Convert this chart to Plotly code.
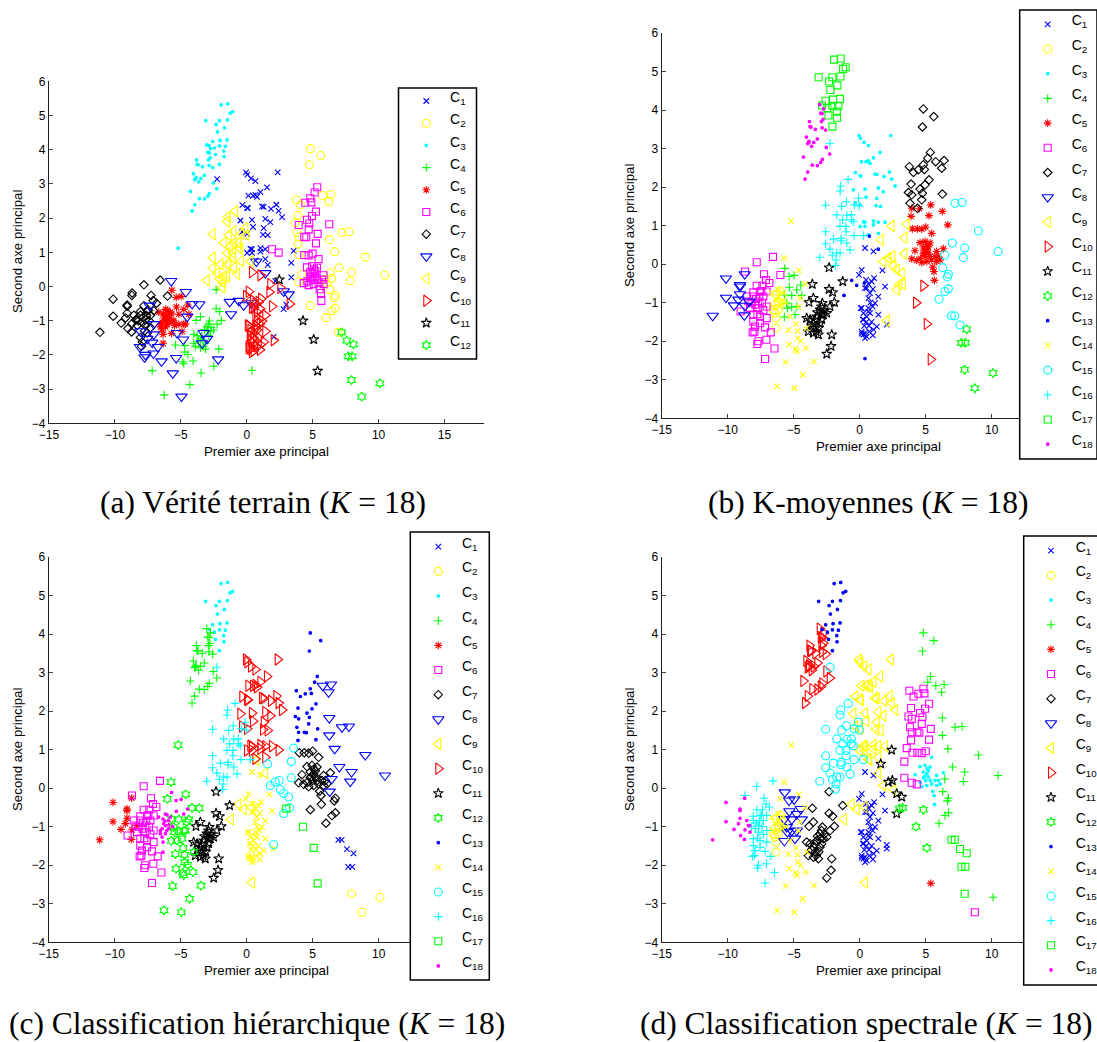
import plotly.graph_objects as go

W, H = 1097, 1042

# ---- point groups: (first axis, second axis) ----
UPPER_DOTS = [(-1.94,5.31),(-1.44,5.34),(-1.26,5.07),(-1.06,5.11),(-3.11,4.85),(-2.32,4.74),(-2.07,4.85),(-1.46,4.87),(-1.69,4.64),(-2.22,4.52),(-2.58,4.24),(-2.02,4.27),(-1.49,4.29),(-2.85,4.12),(-2.45,4.05),(-2.07,4.11),(-1.62,4.10),(-1.74,3.96),(-2.37,3.86),(-1.72,3.80),(-2.07,3.57)]
LOWER_DOTS = [(-3.03,4.14),(-2.75,4.03),(-2.85,3.91),(-2.95,3.92),(-2.78,3.76),(-2.90,3.70),(-3.81,3.70),(-3.76,3.57),(-3.69,3.56),(-3.36,3.50),(-2.85,3.54),(-2.58,3.48),(-4.04,3.30),(-3.84,3.19),(-3.94,3.13),(-3.86,3.16),(-3.48,3.16),(-3.21,3.25),(-3.64,3.06),(-2.53,3.03),(-2.27,2.86),(-4.27,2.78),(-2.83,2.72),(-2.95,2.64),(-3.59,2.57),(-3.21,2.56),(-3.94,2.39),(-4.14,2.21)]
TOP_PLUS = [(-2.25,3.14)]
B3 = [(2.35,3.34),(-0.05,3.34),(0.05,3.27),(0.33,3.16),(0.66,3.08),(1.54,2.90),(1.04,2.76),(0.66,2.68),(0.78,2.62),(0.13,2.66),(0.48,2.66),(0.03,2.30),(1.16,2.34),(1.29,2.33),(1.84,2.27),(2.25,2.39),(2.42,2.21),(2.68,2.03),(1.41,1.98),(1.79,1.88),(0.40,1.95),(1.29,1.71),(0.48,1.74),(1.24,1.52),(1.59,1.50),(0.03,1.54),(1.04,1.12),(1.04,1.02),(1.41,1.09),(0.40,1.09),(0.03,0.98),(0.66,0.76),(1.41,0.80),(-0.33,2.38),(0.08,2.29),(-0.48,1.93),(-0.35,1.60),(0.28,1.10),(0.40,0.98)]
B3_A6 = [(1.92,1.09)]
B16 = [(-0.88,2.20),(-1.44,2.03),(-1.49,1.90),(-2.58,1.53),(-1.01,1.62),(-0.10,1.71),(-0.40,1.54),(-0.03,1.51),(-1.36,1.50),(-1.74,1.28),(-0.98,1.27),(-0.63,1.28),(-1.29,1.15),(-0.63,1.15),(-1.49,0.98),(-1.04,0.98),(-0.48,1.10),(-2.58,0.84),(-1.04,0.84),(-0.43,0.74),(0.28,0.74),(-1.99,0.65),(-1.41,0.67),(-0.98,0.55),(-2.58,0.53),(-2.25,0.39),(-0.73,0.37),(-1.41,0.61),(-1.74,0.29),(-2.07,0.23),(-1.49,0.29),(-3.03,0.18),(-1.79,0.11),(-1.84,-0.03)]
B1 = [(0.40,0.42),(1.04,0.33),(0.15,-0.15),(1.72,-0.16),(1.09,-0.36),(0.91,-0.45),(0.66,-0.51),(0.40,-0.62),(1.92,-0.58),(0.78,-0.75),(0.66,-0.88),(1.41,-0.84),(1.16,-1.01),(0.98,-1.10),(0.66,-1.14),(0.15,-1.14),(0.78,-1.27),(1.41,-1.31),(0.53,-1.36),(0.28,-1.44),(2.05,-1.57),(1.29,-1.62),(1.04,-1.70),(0.73,-1.75),(0.40,-1.79),(0.15,-1.75),(0.40,-1.92),(-0.05,-0.28),(0.48,-0.41),(0.53,-0.62),(0.08,-1.14),(0.66,-1.23),(0.28,-1.27),(0.23,-1.44),(0.15,-1.80),(0.28,-1.83),(0.53,-1.88),(0.90,-1.50),(0.70,-1.60),(1.00,-1.85),(0.50,-1.50),(0.35,-1.60),(0.80,-1.00),(1.00,-0.65)]
B13 = [(-0.61,-0.42),(-0.23,-0.55),(0.35,-0.49),(-1.19,-0.81),(0.73,0.73),(1.41,0.39)]
B13_LOW = [(0.40,-2.45)]
B14_A8 = [(-5.73,0.16),(-4.62,-0.16),(-4.14,-0.51),(-4.52,-0.88),(-5.28,-1.36),(-4.82,-1.55),(-5.35,-2.09),(-5.61,-2.54),(-4.95,-3.22)]
B14_A4 = [(-5.40,-1.71),(-4.70,-1.73),(-4.02,-1.66),(-4.70,-1.92),(-4.47,-1.99),(-4.85,-2.20),(-4.77,-2.26),(-4.07,-2.18),(-3.46,-2.53),(-4.32,-2.87),(-6.26,-3.17)]
B14_A5 = [(-4.65,-1.10)]
B14_A3 = [(-5.20,1.12)]
B4_C18 = [(-5.68,-0.11),(-5.35,-0.32),(-4.97,-0.29),(-5.33,-0.60),(-4.77,-0.67),(-4.47,-0.54)]
B4_C12 = [(-5.71,-0.80),(-5.15,-0.81),(-4.39,-0.81),(-5.53,-1.01),(-5.48,-1.14),(-5.15,-1.11),(-4.77,-1.10),(-5.71,-1.37),(-4.90,-1.31)]
B2 = [(-6.04,-0.69),(-6.34,-0.80),(-5.91,-0.84),(-6.16,-0.97),(-6.41,-1.05),(-6.54,-1.18),(-6.16,-1.18),(-6.41,-1.27),(-6.34,-1.40),(-6.34,-1.66)]
BLOB_X = [(-6.67,-0.75),(-6.29,-0.92),(-5.91,-1.05),(-6.54,-1.10),(-5.78,-0.75),(-6.16,-0.67),(-5.90,-0.95),(-6.05,-1.10),(-5.60,-1.00),(-6.20,-0.85)]
B11 = [(-2.32,-0.09),(-2.32,-0.65),(-2.05,-0.73),(-3.51,-0.88),(-3.84,-0.99),(-2.83,-1.01),(-1.92,-0.99),(-2.25,-1.10),(-3.01,-1.18),(-2.50,-1.27),(-3.76,-1.44),(-2.75,-1.31),(-4.02,-1.40),(-3.51,-1.53),(-3.89,-1.75),(-3.51,-1.79),(-3.13,-1.83),(-2.12,-1.83),(-2.50,-2.33),(-2.88,-1.44),(-3.20,-1.25),(-2.95,-1.30),(-3.40,-1.45),(-3.10,-1.65),(-3.65,-1.60),(-2.70,-1.20),(-3.30,-1.75),(-2.90,-1.10)]
B11_A8 = [(-1.29,-0.45),(-3.26,-1.36),(-3.01,-1.53),(-3.38,-1.66),(-2.17,-2.13)]
B11_C12 = [(-3.59,-0.52)]
B6_A7 = [(-6.57,0.19),(-7.80,0.05),(-8.69,-0.19),(-7.25,-0.26),(-7.10,-0.41),(-6.84,-0.49),(-7.80,-0.56),(-8.06,-0.73),(-7.55,-0.71),(-7.05,-0.71),(-8.06,-0.84),(-7.30,-0.84),(-7.68,-0.97),(-7.68,-1.14),(-7.55,-1.36),(-8.06,-1.49),(-7.93,-1.62),(-7.98,-1.75),(-7.60,-0.85),(-7.40,-1.00),(-7.90,-1.05),(-7.30,-1.20),(-7.75,-1.30),(-8.20,-1.00),(-7.45,-0.70),(-7.85,-0.90)]
B6_A8 = [(-7.37,-0.56),(-7.05,-1.10),(-8.06,-1.31),(-7.05,-1.40),(-7.55,-1.53),(-7.17,-1.64),(-8.11,-1.77),(-6.74,-1.77),(-7.68,-2.00),(-7.75,-2.07),(-7.07,-1.96),(-6.46,-2.19)]
B6_LOW = [(-7.17,-2.46)]
B6_HEX = [(-6.01,-0.28)]
B6_LEFT = [(-8.56,-0.84),(-8.43,-0.97),(-9.02,-1.23),(-8.31,-1.14)]
B8 = [(-11.14,-1.34),(-10.13,-0.37),(-10.13,-0.87),(-9.52,-1.07),(-8.71,-0.26),(-9.07,-0.54),(-9.07,-0.58),(-9.07,-0.78),(-9.19,-0.92),(-8.69,-1.08),(-8.36,-0.97),(-8.74,-1.33)]
B5_TOP = [(5.38,1.54),(4.52,1.44),(5.25,1.26)]
B5_TOP_A2 = [(3.94,1.45),(3.89,1.24)]
B5_RIGHT = [(6.26,1.37),(6.67,1.02)]
B5_MID_A2 = [(3.99,0.92),(3.94,0.14)]
B5_MID = [(4.37,0.92),(4.70,0.91),(5.00,0.96),(4.32,0.10)]
B5_LOW = [(5.45,0.80),(4.57,0.56),(4.95,0.59),(5.33,0.55),(4.82,0.42),(5.08,0.37),(4.82,0.27),(5.20,0.29),(5.83,0.33),(4.70,0.04),(5.08,0.07),(5.45,0.11),(5.83,0.07),(5.53,-0.08),(5.63,-0.19),(5.66,-0.42),(4.90,0.30),(5.20,0.45),(5.00,0.20),(5.35,0.20),(4.60,0.15),(5.70,0.20),(5.10,0.50)]
B5_LOW_A2 = [(4.19,0.35),(5.96,0.20),(6.09,0.11),(6.34,0.40)]
B7_TOP = [(4.82,4.03),(5.61,3.83),(4.75,3.56)]
B7_NEXT = [(5.35,2.90),(5.15,2.75)]
B7_RIGHT = [(5.76,2.66),(6.39,2.69),(6.21,2.49)]
B7_ONE = [(6.26,1.82)]
B7_LEFT = [(3.76,2.53),(4.07,2.38),(3.89,2.08),(3.69,1.86),(3.81,1.58)]
B7_REST = [(4.44,2.45),(4.82,2.58),(4.90,2.46),(5.25,2.19),(4.95,2.06),(4.57,1.95),(4.75,1.84),(4.37,1.45),(4.70,1.67),(3.94,1.80)]
B15_UP = [(7.22,1.58),(7.75,1.60),(8.99,0.86),(10.48,0.33),(7.02,0.55),(7.95,0.42),(7.85,0.17),(6.44,0.24),(6.29,-0.09)]
B15_LOW = [(6.72,-0.26),(6.64,-0.33),(6.72,-0.64),(6.46,-0.71),(6.01,-0.91)]
TAIL_A = [(6.95,-1.34)]
TAIL_B = [(7.20,-1.34),(7.60,-1.58)]
TAIL_C = [(8.10,-1.69),(7.70,-2.04),(8.00,-2.04)]
TAIL_D = [(7.95,-2.74)]
TAIL_E = [(10.10,-2.83)]
TAIL_F = [(8.72,-3.22)]
B10_A = [(4.82,-0.56)]
B10_B = [(4.27,-1.00),(5.08,-1.55)]
B10_C = [(5.38,-2.47)]
B9_1 = [(2.42,0.99)]
B9_2 = [(3.56,1.04),(3.38,0.69),(3.38,0.27)]
B9_3 = [(1.59,0.63),(2.17,0.16),(2.80,-0.66)]
B9_4 = [(2.47,0.20)]
B9_5 = [(1.79,0.07),(2.55,-0.04)]
B9_6 = [(2.80,-0.14),(3.18,-0.23)]
B9_7 = [(3.26,-0.51)]
B9_8 = [(3.00,-0.53)]
B9_9 = [(2.05,-1.47)]

# group, then its class number in panels a, b, c, d
MEMBERSHIP = [
    (UPPER_DOTS,3,17,3,13),(LOWER_DOTS,3,18,4,10),(TOP_PLUS,1,16,16,15),
    (B3,1,3,10,9),(B3_A6,6,3,10,9),(B16,9,16,16,15),(B1,10,1,14,1),
    (B13,8,13,9,9),(B13_LOW,4,13,9,9),(B14_A8,8,14,12,14),(B14_A4,4,14,12,14),
    (B14_A5,5,14,12,14),(B14_A3,3,14,12,14),(B4_C18,5,4,18,8),(B4_C12,5,4,12,8),
    (B2,5,2,18,2),(BLOB_X,5,14,18,14),(B11,4,11,11,7),(B11_A8,8,11,11,7),
    (B11_C12,8,11,12,7),(B6_A7,7,6,6,16),(B6_A8,8,6,6,16),(B6_LOW,4,6,6,16),
    (B6_HEX,7,6,12,14),(B6_LEFT,7,6,6,18),(B8,7,8,5,18),
    (B5_TOP,6,5,13,6),(B5_TOP_A2,2,5,13,6),(B5_RIGHT,2,5,8,4),(B5_MID_A2,2,5,7,6),
    (B5_MID,6,5,7,6),(B5_LOW,6,5,7,3),(B5_LOW_A2,2,5,7,3),
    (B7_TOP,2,7,13,4),(B7_NEXT,6,7,13,4),(B7_RIGHT,2,7,8,4),(B7_ONE,6,7,8,4),
    (B7_LEFT,2,7,13,6),(B7_REST,6,7,13,6),(B15_UP,2,15,8,4),(B15_LOW,2,15,7,4),
    (TAIL_A,2,15,1,17),(TAIL_B,12,15,1,17),(TAIL_C,12,12,1,17),(TAIL_D,12,12,2,17),
    (TAIL_E,12,12,2,4),(TAIL_F,12,12,2,6),(B10_A,2,10,7,12),(B10_B,11,10,17,12),
    (B10_C,11,10,17,5),(B9_1,6,9,10,11),(B9_2,1,9,15,6),(B9_3,1,9,15,11),
    (B9_4,11,9,15,11),(B9_5,10,9,15,9),(B9_6,8,9,15,11),(B9_7,10,9,15,12),
    (B9_8,1,9,17,12),(B9_9,1,9,15,1),
]

STYLES = {
    1:("x-thin-open","#0000ff",5.5), 2:("circle-open","#ffff00",8), 3:("circle","#00ffff",2.6),
    4:("cross-thin-open","#00ff00",6), 5:("asterisk-open","#ff0000",6.5), 6:("square-open","#ff00ff",7),
    7:("diamond-open","#000000",6.5), 8:("triangle-down-open","#0000ff",10), 9:("triangle-left-open","#ffff00",10),
    10:("triangle-right-open","#ff0000",10), 11:("star-open","#000000",7.5), 12:("hexagram-open","#00ff00",7),
    13:("circle","#0000ff",2.6), 14:("x-thin-open","#ffff00",5.5), 15:("circle-open","#00ffff",8),
    16:("cross-thin-open","#00ffff",6), 17:("square-open","#00ff00",7), 18:("circle","#ff00ff",2.6),
}

PANELS = [
 dict(left=49, right=484, top=81.3, bottom=423.3, k=12, ticks=[-15,-10,-5,0,5,10,15], hi=18.0,
      box=(398.5,476.5,88,359), row0=101, step=22.2, mx=426.3, tx=450,
      xt=(266,451), yt=(17,252), cap="(a) Vérité terrain (<i>K</i> = 18)", capxy=(263,502)),
 dict(left=661.7, right=1019.7, top=33, bottom=418.3, k=18, ticks=[-15,-10,-5,0,5,10], hi=12.12,
      box=(1019.7,1097,10,459), row0=24.3, step=24.7, mx=1047.7, tx=1071.7,
      xt=(878,446), yt=(629,226), cap="(b) K-moyennes (<i>K</i> = 18)", capxy=(868,502)),
 dict(left=48.7, right=410.3, top=557, bottom=942.3, k=18, ticks=[-15,-10,-5,0,5,10], hi=12.4,
      box=(410.3,489.3,532,980), row0=546.7, step=24.66, mx=438.3, tx=462,
      xt=(266,970), yt=(17,750), cap="(c) Classification hiérarchique (<i>K</i> = 18)", capxy=(257,1023)),
 dict(left=661.7, right=1023.7, top=557, bottom=942.3, k=18, ticks=[-15,-10,-5,0,5,10], hi=12.42,
      box=(1023.7,1110,536,985), row0=550.7, step=24.66, mx=1051, tx=1075.7,
      xt=(878,970), yt=(629,750), cap="(d) Classification spectrale (<i>K</i> = 18)", capxy=(867,1023)),
]

def px(x): return x/W
def py(y): return 1-y/H

FONT = "Liberation Sans"
fig = go.Figure()
layout = dict(width=W, height=H, margin=dict(l=0,r=0,t=0,b=0,autoexpand=False), autosize=False,
              paper_bgcolor="white", plot_bgcolor="white", showlegend=False,
              annotations=[], shapes=[], font=dict(family=FONT, color="black"))

def ax(n): return "" if n == 1 else str(n)

for i, p in enumerate(PANELS):
    n = i + 1
    layout["xaxis"+ax(n)] = dict(domain=[px(p["left"]), px(p["right"])], range=[-15, p["hi"]], anchor="y"+ax(n),
        tickvals=p["ticks"], ticks="inside", ticklen=4, tickwidth=1, showgrid=False, zeroline=False,
        showline=True, linecolor="#222222", linewidth=1.2, tickfont=dict(size=12, family=FONT, color="black"))
    layout["yaxis"+ax(n)] = dict(domain=[py(p["bottom"]), py(p["top"])], range=[-4, 6], anchor="x"+ax(n),
        tickvals=list(range(-4,7)), ticks="inside", ticklen=4, tickwidth=1, showgrid=False, zeroline=False,
        showline=True, linecolor="#222222", linewidth=1.2, tickfont=dict(size=12, family=FONT, color="black"))
    for c in range(1, p["k"]+1):
        xs, ys = [], []
        for entry in MEMBERSHIP:
            if entry[n] == c:
                xs += [q[0] for q in entry[0]]
                ys += [q[1] for q in entry[0]]
        sym, col, size = STYLES[c]
        fig.add_trace(go.Scatter(x=xs, y=ys, mode="markers", xaxis="x"+ax(n), yaxis="y"+ax(n), name=f"C{c}",
            marker=dict(symbol=sym, color=col, size=size, line=dict(color=col, width=1.1))))
    # legend, drawn on its own small axes
    m = n + 4
    L, R, T, B = p["box"]
    Rc = min(R, W)
    pad_top = (p["row0"]-T)/p["step"]
    pad_bot = (B-p["row0"])/p["step"]
    layout["xaxis"+ax(m)] = dict(domain=[px(L), px(Rc)], range=[L, Rc], visible=False, anchor="y"+ax(m), fixedrange=True)
    layout["yaxis"+ax(m)] = dict(domain=[py(B), py(T)], range=[pad_bot, -pad_top], visible=False, anchor="x"+ax(m), fixedrange=True)
    for c in range(1, p["k"]+1):
        sym, col, size = STYLES[c]
        fig.add_trace(go.Scatter(x=[p["mx"]], y=[c-1], mode="markers", xaxis="x"+ax(m), yaxis="y"+ax(m),
            marker=dict(symbol=sym, color=col, size=size, line=dict(color=col, width=1.1))))
    fig.add_trace(go.Scatter(x=[p["tx"]]*p["k"], y=[c-1.1 for c in range(1,p["k"]+1)], mode="text",
        xaxis="x"+ax(m), yaxis="y"+ax(m), text=[f"C<sub>{c}</sub>" for c in range(1,p["k"]+1)],
        textposition="middle right", textfont=dict(size=14, family=FONT, color="black"), cliponaxis=False))
    layout["shapes"].append(dict(type="rect", xref="paper", yref="paper", x0=px(L), x1=px(R), y0=py(T), y1=py(B),
                                 line=dict(color="black", width=1.5), layer="above"))
    layout["annotations"] += [
        dict(text="Premier axe principal", x=px(p["xt"][0]), y=py(p["xt"][1]), xref="paper", yref="paper",
             showarrow=False, xanchor="center", yanchor="middle", font=dict(size=13.3, family=FONT, color="black")),
        dict(text="Second axe principal", x=px(p["yt"][0]), y=py(p["yt"][1]), xref="paper", yref="paper", textangle=-90,
             showarrow=False, xanchor="center", yanchor="middle", font=dict(size=13.3, family=FONT, color="black")),
        dict(text=p["cap"], x=px(p["capxy"][0]), y=py(p["capxy"][1]), xref="paper", yref="paper",
             showarrow=False, xanchor="center", yanchor="middle", font=dict(size=31.5, family="Liberation Serif", color="black")),
    ]

fig.update_layout(**layout)
fig.write_html("out.html", config=dict(displayModeBar=False),
               post_script="document.body.style.margin='0';document.documentElement.style.overflow='hidden';")
